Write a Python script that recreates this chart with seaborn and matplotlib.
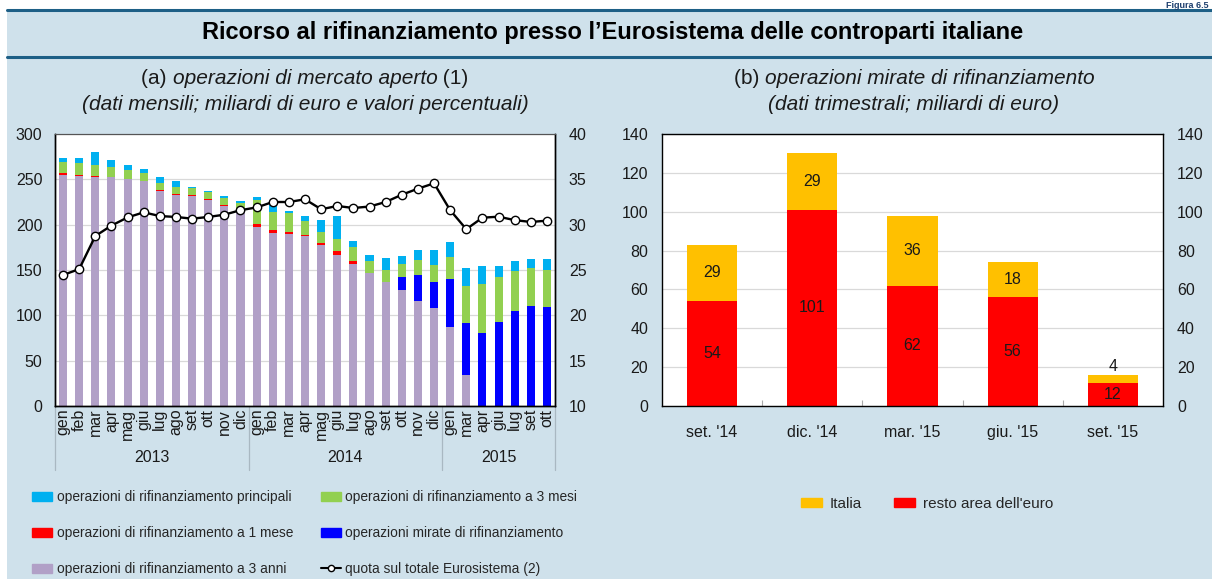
import numpy as np
import pandas as pd
import matplotlib
matplotlib.use("Agg")
import matplotlib.pyplot as plt
import seaborn as sns
from matplotlib.patches import Rectangle, Patch
from matplotlib.lines import Line2D

sns.set_theme(style="white")
plt.rcParams["font.family"] = ["Liberation Sans", "DejaVu Sans"]

# ---------------- data (a) ----------------
anni = ["2013", "2014", "2015"]
mesi_2013 = ["gen", "feb", "mar", "apr", "mag", "giu", "lug", "ago", "set", "ott", "nov", "dic"]
mesi_2014 = ["gen", "feb", "mar", "apr", "mag", "giu", "lug", "ago", "set", "ott", "nov", "dic"]
mesi_2015 = ["gen", "mar", "apr", "giu", "lug", "set", "ott"]

tre_anni = [255, 254, 253, 252.6, 250, 248, 237.5, 233, 231.6, 227.6, 221, 217,
            197.8, 191.2, 189.3, 187, 177.6, 166.9, 156.6, 146.3, 136.4, 127.6, 116.2, 108,
            87.1, 34.2, 0, 0, 0, 0, 0]
mirate = [0, 0, 0, 0, 0, 0, 0, 0, 0, 0, 0, 0,
          0, 0, 0, 0, 0, 0, 0, 0, 0, 14.4, 28.7, 28.8,
          52.9, 57.3, 80.9, 93, 105.1, 110.3, 109.2]
un_mese = [2, 1, 0.7, 0, 0, 0, 1.1, 1, 1.1, 0.7, 0.7, 0,
           2.9, 3.3, 2.7, 1.2, 2.2, 3.7, 3.3, 0, 0, 0, 0, 0,
           0, 0, 0, 0, 0, 0, 0]
tre_mesi = [12.5, 12.6, 12.3, 11.4, 10, 9, 7.4, 8, 7.7, 8.1, 7.7, 7,
            26.5, 19.5, 21.2, 16.2, 12.1, 14, 15.1, 13.7, 14, 14.6, 16.1, 18.7,
            24.7, 40.5, 53.3, 49.3, 43.8, 42.3, 40.8]
principali = [3.5, 6.4, 14, 7, 6, 4, 6.6, 6, 1.6, 1.1, 1.8, 2,
              2.8, 7.3, 2.2, 5.2, 13.1, 25.3, 7, 6.5, 12.8, 8.8, 11, 16.9,
              15.8, 20.2, 20.6, 12.5, 11.1, 9.2, 11.8]
quota = [24.45, 25.1, 28.75, 29.9, 30.8, 31.36, 30.95, 30.85, 30.66, 30.85, 31.1, 31.6,
         31.9, 32.5, 32.5, 32.8, 31.7, 32.06, 31.84, 32.0, 32.5, 33.3, 33.97, 34.56,
         31.6, 29.5, 30.77, 30.88, 30.5, 30.3, 30.44]

# ---------------- data (b) ----------------
periodi_b = ["set. '14", "dic. '14", "mar. '15", "giu. '15", "set. '15"]
resto_area = [54, 101, 62, 56, 12]
italia = [29, 29, 36, 18, 4]

# colours
C_PRINC = "#00B0F0"
C_3MESI = "#92D050"
C_1MESE = "#FF0000"
C_MIRATE = "#0000FF"
C_3ANNI = "#B1A0C7"
C_ITALIA = "#FFC000"
C_RESTO = "#FF0000"
BG = "#CFE1EB"
LINEC = "#1D5F86"
GRID = "#D9D9D9"

W, H = 1212, 579
fig = plt.figure(figsize=(W / 100, H / 100), dpi=100)
fig.patch.set_facecolor("white")
fig.add_artist(Rectangle((7 / W, 0), 1 - 7 / W, (H - 10) / H, transform=fig.transFigure,
                         facecolor=BG, edgecolor="none", zorder=-10))
for yy in (10, 57):
    fig.add_artist(Line2D([7 / W, 1], [1 - yy / H] * 2, transform=fig.transFigure,
                          color=LINEC, lw=2.2, zorder=-5))

fig.text(1209 / W, 1 - 0.5 / H, "Figura 6.5", fontsize=6.5, fontweight="bold",
         color="#1D3F6E", ha="right", va="top")
fig.text(613 / W, 1 - 33 / H,
         "Ricorso al rifinanziamento presso l\u2019Eurosistema delle controparti italiane",
         fontsize=17, fontweight="bold", ha="center", va="center", color="black")

renderer = fig.canvas.get_renderer()


def mixed(xc, yy, parts, size=15):
    texts, widths = [], []
    for s, st in parts:
        t = fig.text(0, 1 - yy / H, s, fontsize=size, style=st, ha="left", va="center",
                     color="#1a1a1a")
        widths.append(t.get_window_extent(renderer).width)
        texts.append(t)
    x = xc - sum(widths) / 2
    for t, w in zip(texts, widths):
        t.set_x(x / W)
        x += w


mixed(305, 78, [("(a) ", "normal"), ("operazioni di mercato aperto", "italic"), (" (1)", "normal")])
mixed(305, 104, [("(dati mensili; miliardi di euro e valori percentuali)", "italic")])
mixed(914, 78, [("(b) ", "normal"), ("operazioni mirate di rifinanziamento", "italic")])
mixed(914, 104, [("(dati trimestrali; miliardi di euro)", "italic")])

TS = 11.5

# ================= panel (a) =================
mesi_all = mesi_2013 + mesi_2014 + mesi_2015
anni_all = [anni[0]] * len(mesi_2013) + [anni[1]] * len(mesi_2014) + [anni[2]] * len(mesi_2015)
keys = [f"{a} {m}" for a, m in zip(anni_all, mesi_all)]
n = len(keys)
dfa = pd.DataFrame({"key": keys, "tre_anni": tre_anni, "mirate": mirate, "un_mese": un_mese,
                    "tre_mesi": tre_mesi, "principali": principali, "quota": quota})
layers = [("tre_anni", C_3ANNI), ("mirate", C_MIRATE), ("un_mese", C_1MESE),
          ("tre_mesi", C_3MESI), ("principali", C_PRINC)]
cum = np.zeros(n)
for name, _ in layers:
    cum = cum + dfa[name].values
    dfa["cum_" + name] = cum

axa = fig.add_axes([55 / W, 1 - 406 / H, 500 / W, 272 / H])
axa.set_facecolor("white")
for name, col in reversed(layers):
    sns.barplot(data=dfa, x="key", y="cum_" + name, order=keys, color=col, saturation=1,
                width=0.5, ax=axa, edgecolor="none")
axa.set_xlim(-0.5, n - 0.5)
axa.set_ylim(0, 300)
axa.set_yticks(np.arange(0, 301, 50))
axa.yaxis.grid(True, color=GRID, lw=0.9)
axa.set_axisbelow(True)
axa.set_xlabel("")
axa.set_ylabel("")
axa.set_xticks(range(n))
axa.set_xticklabels(mesi_all, rotation=90, fontsize=TS)
axa.tick_params(axis="both", length=0, labelsize=TS, colors="#1a1a1a")
axa.tick_params(axis="y", pad=9)
axa.tick_params(axis="x", pad=2)

axa2 = axa.twinx()
sns.lineplot(x=np.arange(n), y=dfa["quota"].values, ax=axa2, color="black", lw=1.7,
             marker="o", markersize=6, markerfacecolor="white", markeredgecolor="black",
             markeredgewidth=1.0)
axa2.set_ylim(10, 40)
axa2.set_yticks(np.arange(10, 41, 5))
axa2.set_xlim(-0.5, n - 0.5)
axa2.tick_params(axis="y", length=0, labelsize=TS, pad=10, colors="#1a1a1a")
axa2.set_ylabel("")
for ax_ in (axa, axa2):
    for s in ax_.spines.values():
        s.set_color("black")
        s.set_linewidth(1.0)
axa.spines["top"].set_color("#555555")
axa.spines["top"].set_linewidth(0.8)
axa2.spines["top"].set_color("#555555")
axa2.spines["top"].set_linewidth(0.8)

# year separators and labels
bounds = [-0.5]
start = 0
for a in anni:
    cnt = anni_all.count(a)
    bounds.append(start + cnt - 0.5)
    axa.text(start + (cnt - 1) / 2, -0.19, a, transform=axa.get_xaxis_transform(),
             ha="center", va="center", fontsize=TS, color="#1a1a1a")
    start += cnt
for b in bounds:
    axa.plot([b, b], [0, -0.235], transform=axa.get_xaxis_transform(), clip_on=False,
             color="#A9B8C2", lw=0.9)

# legend (a)
handles_a = [Patch(color=C_PRINC), Patch(color=C_1MESE), Patch(color=C_3ANNI),
             Patch(color=C_3MESI), Patch(color=C_MIRATE),
             Line2D([], [], color="black", lw=1.5, marker="o", markersize=4.5,
                    markerfacecolor="white", markeredgecolor="black")]
labels_a = ["operazioni di rifinanziamento principali",
            "operazioni di rifinanziamento a 1 mese",
            "operazioni di rifinanziamento a 3 anni",
            "operazioni di rifinanziamento a 3 mesi",
            "operazioni mirate di rifinanziamento",
            "quota sul totale Eurosistema (2)"]
fig.legend(handles_a, labels_a, ncol=2, loc="upper left",
           bbox_to_anchor=(32 / W, 1 - 490 / H), frameon=False, fontsize=9.9,
           handlelength=1.45, handleheight=0.6, handletextpad=0.35, labelspacing=1.6,
           columnspacing=2.0, borderaxespad=0, borderpad=0)

# ================= panel (b) =================
dfb = pd.DataFrame({"periodo": periodi_b, "resto": resto_area, "italia": italia})
dfb["totale"] = dfb["resto"] + dfb["italia"]
axb = fig.add_axes([662 / W, 1 - 406 / H, 501 / W, 272 / H])
axb.set_facecolor("white")
sns.barplot(data=dfb, x="periodo", y="totale", color=C_ITALIA, saturation=1, width=0.5,
            ax=axb, edgecolor="none")
sns.barplot(data=dfb, x="periodo", y="resto", color=C_RESTO, saturation=1, width=0.5,
            ax=axb, edgecolor="none")
axb.set_xlim(-0.5, len(periodi_b) - 0.5)
axb.set_ylim(0, 140)
axb.set_yticks(np.arange(0, 141, 20))
axb.yaxis.grid(True, color=GRID, lw=0.9)
axb.set_axisbelow(True)
axb.set_xlabel("")
axb.set_ylabel("")
axb.tick_params(axis="both", length=0, labelsize=TS, colors="#1a1a1a")
axb.tick_params(axis="y", pad=10, labelright=True)
axb.tick_params(axis="x", pad=14)
axb.set_xticks(np.arange(len(periodi_b) - 1) + 0.5, minor=True)
axb.tick_params(axis="x", which="minor", direction="in", length=4, color="#AAAAAA",
                bottom=True, width=0.8)
for s in axb.spines.values():
    s.set_color("black")
    s.set_linewidth(1.0)
for i, (r, it) in enumerate(zip(resto_area, italia)):
    axb.text(i, r / 2, str(r), ha="center", va="center", fontsize=TS, color="#1a1a1a")
    if it >= 8:
        axb.text(i, r + it / 2, str(it), ha="center", va="center", fontsize=TS, color="#1a1a1a")
    else:
        axb.text(i, r + it + 0.6, str(it), ha="center", va="bottom", fontsize=TS, color="#1a1a1a")

handles_b = [Patch(color=C_ITALIA), Patch(color=C_RESTO)]
labels_b = ["Italia", "resto area dell'euro"]
fig.legend(handles_b, labels_b, ncol=2, loc="center", bbox_to_anchor=(927 / W, 1 - 504 / H),
           frameon=False, fontsize=11, handlelength=1.4, handleheight=0.6,
           handletextpad=0.5, columnspacing=2.1, borderpad=0)

fig.savefig("out.png", dpi=100)
